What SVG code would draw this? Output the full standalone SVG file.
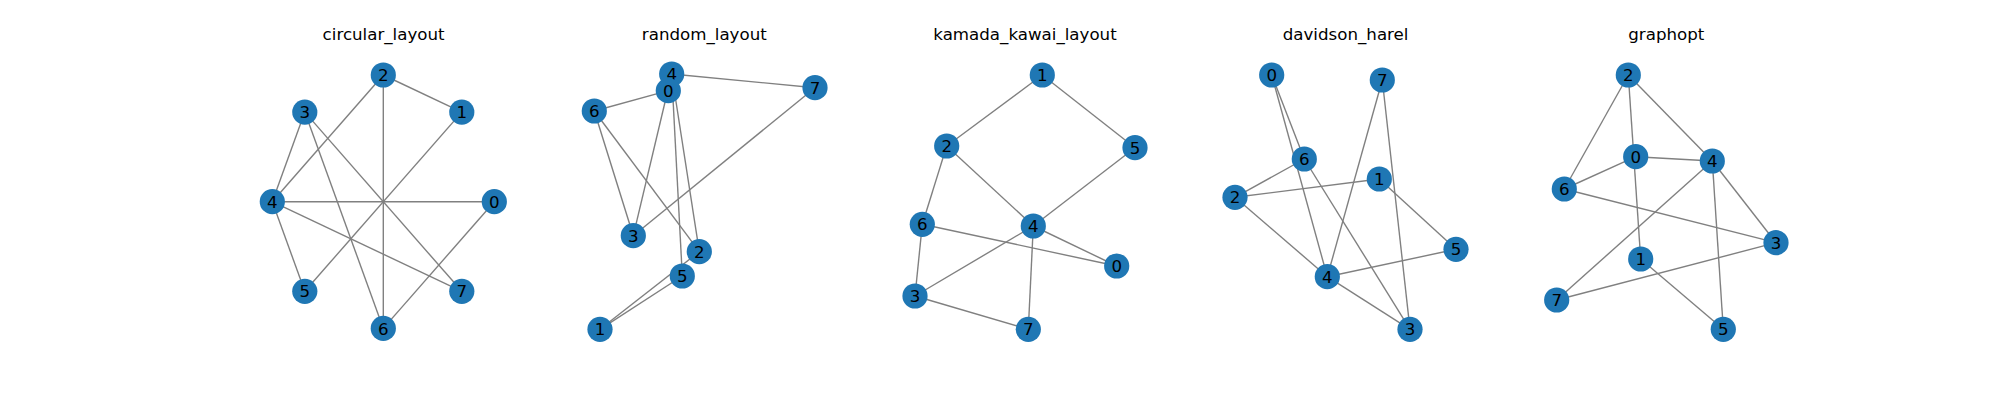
<svg xmlns="http://www.w3.org/2000/svg" width="2000" height="400" viewBox="0 0 2000 400">
<style>
.bg{fill:#ffffff}
.e line{stroke:#808080;stroke-width:1.39;fill:none}
.n circle{fill:#1f77b4}
.n text{font-family:"DejaVu Sans",sans-serif;font-size:16.67px;fill:#000;text-anchor:middle}
.t{font-family:"DejaVu Sans",sans-serif;font-size:16.67px;fill:#000;text-anchor:middle}
</style>
<rect class="bg" x="0" y="0" width="2000" height="400"/>

<!-- Panel 1: circular_layout -->
<text class="t" x="383.6" y="39.7">circular_layout</text>
<g id="p1-edges" class="e">
<line x1="494.3" y1="201.7" x2="383.3" y2="328.4"/>
<line x1="494.3" y1="201.7" x2="272.3" y2="201.7"/>
<line x1="461.8" y1="112.1" x2="383.3" y2="75"/>
<line x1="461.8" y1="112.1" x2="304.8" y2="291.3"/>
<line x1="383.3" y1="75" x2="272.3" y2="201.7"/>
<line x1="383.3" y1="75" x2="383.3" y2="328.4"/>
<line x1="304.8" y1="112.1" x2="272.3" y2="201.7"/>
<line x1="304.8" y1="112.1" x2="383.3" y2="328.4"/>
<line x1="304.8" y1="112.1" x2="461.8" y2="291.3"/>
<line x1="272.3" y1="201.7" x2="304.8" y2="291.3"/>
<line x1="272.3" y1="201.7" x2="461.8" y2="291.3"/>
</g>
<g id="p1-n0" class="n"><circle cx="494.3" cy="201.7" r="12.6"/><text x="494.3" y="207.8">0</text></g>
<g id="p1-n1" class="n"><circle cx="461.8" cy="112.1" r="12.6"/><text x="461.8" y="118.2">1</text></g>
<g id="p1-n2" class="n"><circle cx="383.3" cy="75" r="12.6"/><text x="383.3" y="81.1">2</text></g>
<g id="p1-n3" class="n"><circle cx="304.8" cy="112.1" r="12.6"/><text x="304.8" y="118.2">3</text></g>
<g id="p1-n4" class="n"><circle cx="272.3" cy="201.7" r="12.6"/><text x="272.3" y="207.8">4</text></g>
<g id="p1-n5" class="n"><circle cx="304.8" cy="291.3" r="12.6"/><text x="304.8" y="297.4">5</text></g>
<g id="p1-n6" class="n"><circle cx="383.3" cy="328.4" r="12.6"/><text x="383.3" y="334.5">6</text></g>
<g id="p1-n7" class="n"><circle cx="461.8" cy="291.3" r="12.6"/><text x="461.8" y="297.4">7</text></g>

<!-- Panel 2: random_layout -->
<text class="t" x="704.3" y="39.7">random_layout</text>
<g id="p2-edges" class="e">
<line x1="668.3" y1="90.7" x2="671.7" y2="74"/>
<line x1="668.3" y1="90.7" x2="594.3" y2="111"/>
<line x1="600" y1="329.3" x2="699.3" y2="251.7"/>
<line x1="600" y1="329.3" x2="682.3" y2="276"/>
<line x1="699.3" y1="251.7" x2="671.7" y2="74"/>
<line x1="699.3" y1="251.7" x2="594.3" y2="111"/>
<line x1="633.3" y1="235.7" x2="671.7" y2="74"/>
<line x1="633.3" y1="235.7" x2="594.3" y2="111"/>
<line x1="633.3" y1="235.7" x2="815" y2="87.7"/>
<line x1="671.7" y1="74" x2="682.3" y2="276"/>
<line x1="671.7" y1="74" x2="815" y2="87.7"/>
</g>
<g id="p2-n4" class="n"><circle cx="671.7" cy="74" r="12.6"/><text x="671.7" y="80.1">4</text></g>
<g id="p2-n0" class="n"><circle cx="668.3" cy="90.7" r="12.6"/><text x="668.3" y="96.8">0</text></g>
<g id="p2-n1" class="n"><circle cx="600" cy="329.3" r="12.6"/><text x="600" y="335.4">1</text></g>
<g id="p2-n2" class="n"><circle cx="699.3" cy="251.7" r="12.6"/><text x="699.3" y="257.8">2</text></g>
<g id="p2-n3" class="n"><circle cx="633.3" cy="235.7" r="12.6"/><text x="633.3" y="241.8">3</text></g>
<g id="p2-n5" class="n"><circle cx="682.3" cy="276" r="12.6"/><text x="682.3" y="282.1">5</text></g>
<g id="p2-n6" class="n"><circle cx="594.3" cy="111" r="12.6"/><text x="594.3" y="117.1">6</text></g>
<g id="p2-n7" class="n"><circle cx="815" cy="87.7" r="12.6"/><text x="815" y="93.8">7</text></g>

<!-- Panel 3: kamada_kawai_layout -->
<text class="t" x="1025" y="39.7">kamada_kawai_layout</text>
<g id="p3-edges" class="e">
<line x1="1116.7" y1="266" x2="1033.3" y2="226"/>
<line x1="1116.7" y1="266" x2="922.3" y2="224.3"/>
<line x1="1042.3" y1="75" x2="946.7" y2="146"/>
<line x1="1042.3" y1="75" x2="1135" y2="147.7"/>
<line x1="946.7" y1="146" x2="1033.3" y2="226"/>
<line x1="946.7" y1="146" x2="922.3" y2="224.3"/>
<line x1="915" y1="296" x2="1033.3" y2="226"/>
<line x1="915" y1="296" x2="922.3" y2="224.3"/>
<line x1="915" y1="296" x2="1028.3" y2="329.3"/>
<line x1="1033.3" y1="226" x2="1135" y2="147.7"/>
<line x1="1033.3" y1="226" x2="1028.3" y2="329.3"/>
</g>
<g id="p3-n0" class="n"><circle cx="1116.7" cy="266" r="12.6"/><text x="1116.7" y="272.1">0</text></g>
<g id="p3-n1" class="n"><circle cx="1042.3" cy="75" r="12.6"/><text x="1042.3" y="81.1">1</text></g>
<g id="p3-n2" class="n"><circle cx="946.7" cy="146" r="12.6"/><text x="946.7" y="152.1">2</text></g>
<g id="p3-n3" class="n"><circle cx="915" cy="296" r="12.6"/><text x="915" y="302.1">3</text></g>
<g id="p3-n4" class="n"><circle cx="1033.3" cy="226" r="12.6"/><text x="1033.3" y="232.1">4</text></g>
<g id="p3-n5" class="n"><circle cx="1135" cy="147.7" r="12.6"/><text x="1135" y="153.8">5</text></g>
<g id="p3-n6" class="n"><circle cx="922.3" cy="224.3" r="12.6"/><text x="922.3" y="230.4">6</text></g>
<g id="p3-n7" class="n"><circle cx="1028.3" cy="329.3" r="12.6"/><text x="1028.3" y="335.4">7</text></g>

<!-- Panel 4: davidson_harel -->
<text class="t" x="1345.6" y="39.7">davidson_harel</text>
<g id="p4-edges" class="e">
<line x1="1271.7" y1="75" x2="1327.3" y2="276.7"/>
<line x1="1271.7" y1="75" x2="1304.3" y2="159"/>
<line x1="1379.3" y1="179" x2="1235" y2="197.3"/>
<line x1="1379.3" y1="179" x2="1456" y2="249.3"/>
<line x1="1235" y1="197.3" x2="1327.3" y2="276.7"/>
<line x1="1235" y1="197.3" x2="1304.3" y2="159"/>
<line x1="1410" y1="329.3" x2="1327.3" y2="276.7"/>
<line x1="1410" y1="329.3" x2="1304.3" y2="159"/>
<line x1="1410" y1="329.3" x2="1382.3" y2="80"/>
<line x1="1327.3" y1="276.7" x2="1456" y2="249.3"/>
<line x1="1327.3" y1="276.7" x2="1382.3" y2="80"/>
</g>
<g id="p4-n0" class="n"><circle cx="1271.7" cy="75" r="12.6"/><text x="1271.7" y="81.1">0</text></g>
<g id="p4-n1" class="n"><circle cx="1379.3" cy="179" r="12.6"/><text x="1379.3" y="185.1">1</text></g>
<g id="p4-n2" class="n"><circle cx="1235" cy="197.3" r="12.6"/><text x="1235" y="203.4">2</text></g>
<g id="p4-n3" class="n"><circle cx="1410" cy="329.3" r="12.6"/><text x="1410" y="335.4">3</text></g>
<g id="p4-n4" class="n"><circle cx="1327.3" cy="276.7" r="12.6"/><text x="1327.3" y="282.8">4</text></g>
<g id="p4-n5" class="n"><circle cx="1456" cy="249.3" r="12.6"/><text x="1456" y="255.4">5</text></g>
<g id="p4-n6" class="n"><circle cx="1304.3" cy="159" r="12.6"/><text x="1304.3" y="165.1">6</text></g>
<g id="p4-n7" class="n"><circle cx="1382.3" cy="80" r="12.6"/><text x="1382.3" y="86.1">7</text></g>

<!-- Panel 5: graphopt -->
<text class="t" x="1666.3" y="39.7">graphopt</text>
<g id="p5-edges" class="e">
<line x1="1635.7" y1="156.7" x2="1712.3" y2="161"/>
<line x1="1635.7" y1="156.7" x2="1564.3" y2="189"/>
<line x1="1640.7" y1="259" x2="1628.3" y2="75"/>
<line x1="1640.7" y1="259" x2="1723.3" y2="329.3"/>
<line x1="1628.3" y1="75" x2="1712.3" y2="161"/>
<line x1="1628.3" y1="75" x2="1564.3" y2="189"/>
<line x1="1776" y1="242.7" x2="1712.3" y2="161"/>
<line x1="1776" y1="242.7" x2="1564.3" y2="189"/>
<line x1="1776" y1="242.7" x2="1556.7" y2="300"/>
<line x1="1712.3" y1="161" x2="1723.3" y2="329.3"/>
<line x1="1712.3" y1="161" x2="1556.7" y2="300"/>
</g>
<g id="p5-n0" class="n"><circle cx="1635.7" cy="156.7" r="12.6"/><text x="1635.7" y="162.8">0</text></g>
<g id="p5-n1" class="n"><circle cx="1640.7" cy="259" r="12.6"/><text x="1640.7" y="265.1">1</text></g>
<g id="p5-n2" class="n"><circle cx="1628.3" cy="75" r="12.6"/><text x="1628.3" y="81.1">2</text></g>
<g id="p5-n3" class="n"><circle cx="1776" cy="242.7" r="12.6"/><text x="1776" y="248.8">3</text></g>
<g id="p5-n4" class="n"><circle cx="1712.3" cy="161" r="12.6"/><text x="1712.3" y="167.1">4</text></g>
<g id="p5-n5" class="n"><circle cx="1723.3" cy="329.3" r="12.6"/><text x="1723.3" y="335.4">5</text></g>
<g id="p5-n6" class="n"><circle cx="1564.3" cy="189" r="12.6"/><text x="1564.3" y="195.1">6</text></g>
<g id="p5-n7" class="n"><circle cx="1556.7" cy="300" r="12.6"/><text x="1556.7" y="306.1">7</text></g>
</svg>
